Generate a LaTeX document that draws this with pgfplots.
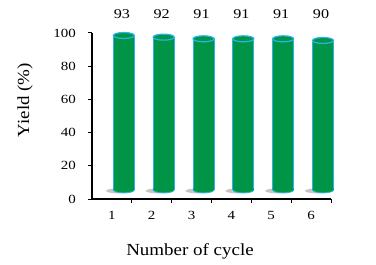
\documentclass[border=0pt]{standalone}
\usepackage{graphicx}
\usepackage{fontspec}
\setmainfont{Liberation Serif}
\usepackage{pgfplots}
\pgfplotsset{compat=1.18}
\definecolor{cylgreen}{RGB}{0,148,70}
\definecolor{cylcyan}{RGB}{40,180,230}
\definecolor{shadowgray}{RGB}{150,150,150}
\newcommand\sx[1]{\scalebox{1.2}[1]{#1}}
\newcommand\lx[1]{\scalebox{1.12}[1]{#1}}
\pgfdeclareplotmark{cyltop}{%
  \pgfpathellipse{\pgfpointorigin}{\pgfqpoint{10.5bp}{0bp}}{\pgfqpoint{0bp}{3bp}}%
  \pgfusepathqfillstroke}
\pgfdeclareplotmark{shadowmk}{%
  \pgfpathellipse{\pgfpointorigin}{\pgfqpoint{14bp}{0bp}}{\pgfqpoint{0bp}{2.6bp}}%
  \pgfusepathqfill}
\pgfdeclareplotmark{cylbot}{%
  \pgfpathmoveto{\pgfqpoint{-10.5bp}{1.2bp}}%
  \pgfpathlineto{\pgfqpoint{-10.5bp}{0bp}}%
  \pgfpatharc{180}{360}{10.5bp and 3bp}%
  \pgfpathlineto{\pgfqpoint{10.5bp}{1.2bp}}%
  \pgfpathclose\pgfusepathqfill
  \pgfpathmoveto{\pgfqpoint{-10.5bp}{0bp}}%
  \pgfpatharc{180}{360}{10.5bp and 3bp}%
  \pgfusepathqstroke}
\pgfplotsset{base/.style={scale only axis, width=239bp, height=166bp,
  xmin=0.5, xmax=6.5, ymin=0, ymax=100, clip=false}}
\begin{document}
\begin{tikzpicture}
\begin{axis}[base,
  axis x line*=bottom, axis y line*=left,
  axis line style={black, line width=1.1bp},
  tick style={black, line width=1bp},
  tick align=outside, major tick length=4bp,
  ytick={0,20,40,60,80,100},
  yticklabels={\sx{0},\sx{20},\sx{40},\sx{60},\sx{80},\sx{100}},
  xtick={1.5,2.5,3.5,4.5,5.5,6.5},
  xticklabels={\sx{1},\sx{2},\sx{3},\sx{4},\sx{5},\sx{6}},
  tick label style={font=\fontsize{12.5}{14}\selectfont},
  xticklabel style={anchor=base, inner sep=0pt, xshift=-20bp, yshift=-16bp},
  yticklabel style={anchor=east, inner sep=0pt, xshift=-12bp},
  xlabel={\lx{Number of cycle}},
  ylabel={\lx{Yield (\%)}},
  label style={font=\fontsize{17}{19}\selectfont},
  xlabel style={at={(axis description cs:0.41,0)}, anchor=base, inner sep=0pt, yshift=-56bp},
  ylabel style={at={([xshift=-67bp]axis description cs:0,0.596)}, anchor=center, inner sep=0pt},
]
\addplot[only marks, mark=shadowmk, mark options={fill=shadowgray, draw=none, opacity=0.55}]
  coordinates {(1.2,4.9) (2.2,4.9) (3.2,4.9) (4.2,4.9) (5.2,4.9) (6.2,4.9)};
\path (rel axis cs:0,0) ++(-92bp,-66bp) rectangle ++(376bp,265bp);
\end{axis}
\begin{axis}[base, hide axis, ybar stacked, bar width=21bp]
\addplot[draw=none, fill=none] coordinates {(1.3,5.5) (2.3,5.5) (3.3,5.5) (4.3,5.5) (5.3,5.5) (6.3,5.5)};
\addplot[fill=cylgreen, draw=cylcyan, line width=0.8bp]
  coordinates {(1.3,93) (2.3,92) (3.3,91) (4.3,91) (5.3,91) (6.3,90)};
\end{axis}
\begin{axis}[base, hide axis]
\addplot[only marks, mark=cylbot, mark options={fill=cylgreen, draw=cylcyan, line width=0.8bp}]
  coordinates {(1.3,5.5) (2.3,5.5) (3.3,5.5) (4.3,5.5) (5.3,5.5) (6.3,5.5)};
\addplot[only marks, mark=cyltop, mark options={fill=cylgreen, draw=cylcyan, line width=1.2bp}]
  coordinates {(1.3,98.5) (2.3,97.5) (3.3,96.5) (4.3,96.5) (5.3,96.5) (6.3,95.5)};
\addplot[draw=none, nodes near coords, point meta=explicit symbolic,
  every node near coord/.append style={anchor=center, inner sep=0pt, black,
    font=\fontsize{13.5}{15}\selectfont}]
  coordinates {(1.25,111.5) [\sx{93}] (2.25,111.5) [\sx{92}] (3.25,111.5) [\sx{91}]
               (4.25,111.5) [\sx{91}] (5.25,111.5) [\sx{91}] (6.25,111.5) [\sx{90}]};
\end{axis}
\end{tikzpicture}
\end{document}
